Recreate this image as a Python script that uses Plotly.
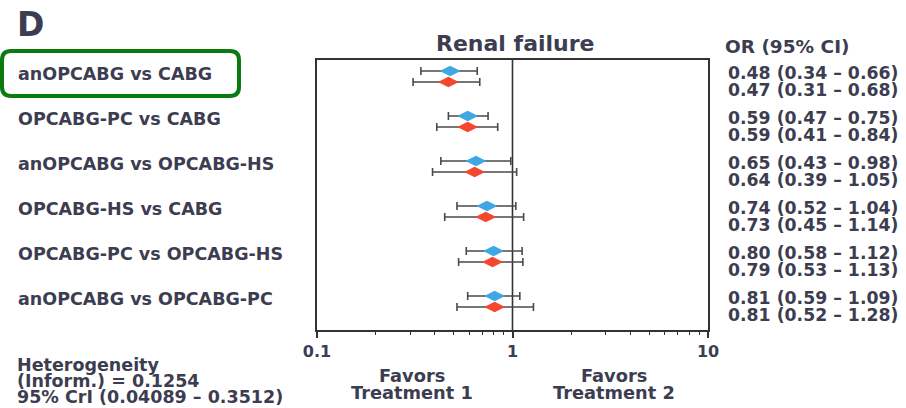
import plotly.graph_objects as go

# Network meta-analysis: renal failure, pairwise odds ratios
comparisons = [
    "anOPCABG vs CABG",
    "OPCABG-PC vs CABG",
    "anOPCABG vs OPCABG-HS",
    "OPCABG-HS vs CABG",
    "OPCABG-PC vs OPCABG-HS",
    "anOPCABG vs OPCABG-PC",
]
or_blue = [0.48, 0.59, 0.65, 0.74, 0.80, 0.81]
lo_blue = [0.34, 0.47, 0.43, 0.52, 0.58, 0.59]
hi_blue = [0.66, 0.75, 0.98, 1.04, 1.12, 1.09]
or_red = [0.47, 0.59, 0.64, 0.73, 0.79, 0.81]
lo_red = [0.31, 0.41, 0.39, 0.45, 0.53, 0.52]
hi_red = [0.68, 0.84, 1.05, 1.14, 1.13, 1.28]
x_major = [0.1, 1, 10]
x_major_labels = ["0.1", "1", "10"]
x_minor = [0.2, 0.3, 0.4, 0.5, 0.6, 0.7, 0.8, 0.9, 2, 3, 4, 5, 6, 7, 8, 9]
heterogeneity = ["Heterogeneity", "(Inform.) = 0.1254", "95% CrI (0.04089 \u2013 0.3512)"]

W, H = 906, 408
L, R, T, B = 317, 708, 60, 330
TEXT = "#3c3d50"
FONT = "DejaVu Sans"
BLUE = "#3ea7e4"
RED = "#f4472d"
BAR = "#4a4a4a"


def px_x(px):
    return (px - L) / (R - L)


def px_y(py):
    return (B - py) / (B - T)


def font(size, weight="bold"):
    return dict(family=FONT, size=size, color=TEXT, weight=weight)


rows = list(range(len(comparisons)))
off = 5.5 / 45.0

fig = go.Figure()


def add_series(ors, los, his, color, shift):
    fig.add_trace(go.Scatter(
        x=ors,
        y=[r + shift for r in rows],
        mode="markers",
        marker=dict(symbol="diamond-wide", size=15, color=color, line=dict(width=0)),
        error_x=dict(
            type="data", symmetric=False,
            array=[h - o for o, h in zip(ors, his)],
            arrayminus=[o - l for o, l in zip(ors, los)],
            color=BAR, thickness=1.6, width=4,
        ),
        showlegend=False,
        hoverinfo="skip",
    ))


add_series(or_blue, lo_blue, hi_blue, BLUE, -off)
add_series(or_red, lo_red, hi_red, RED, off)

# reference line at OR = 1
fig.add_shape(type="line", xref="x", yref="y domain", x0=1, x1=1, y0=0, y1=1,
              line=dict(color="#333333", width=1.6), layer="below")

ann = []
for r, name in zip(rows, comparisons):
    ann.append(dict(text=name, xref="paper", yref="y", x=px_x(16), y=r, yshift=3,
                    xanchor="left", yanchor="middle", showarrow=False, font=font(17.5)))
for r in rows:
    t1 = f"{or_blue[r]:.2f} ({lo_blue[r]:.2f} \u2013 {hi_blue[r]:.2f})"
    t2 = f"{or_red[r]:.2f} ({lo_red[r]:.2f} \u2013 {hi_red[r]:.2f})"
    for t, ys in ((t1, 4), (t2, -13)):
        ann.append(dict(text=t, xref="paper", yref="y", x=px_x(726), y=r, yshift=ys,
                        xanchor="left", yanchor="middle", showarrow=False, font=font(17.3)))

ann.append(dict(text="OR (95% CI)", xref="paper", yref="paper", x=px_x(723), y=px_y(46),
                xanchor="left", yanchor="middle", showarrow=False, font=font(18.5)))
ann.append(dict(text="Renal failure", xref="paper", yref="paper", x=px_x(515), y=px_y(44),
                xanchor="center", yanchor="middle", showarrow=False, font=font(22)))
ann.append(dict(text="D", xref="paper", yref="paper", x=px_x(15), y=px_y(24),
                xanchor="left", yanchor="middle", showarrow=False, font=font(33)))
for cx, lab in ((412, "Treatment 1"), (614, "Treatment 2")):
    ann.append(dict(text="Favors", xref="paper", yref="paper", x=px_x(cx), y=px_y(375),
                    xanchor="center", yanchor="middle", showarrow=False, font=font(17.8)))
    ann.append(dict(text=lab, xref="paper", yref="paper", x=px_x(cx), y=px_y(392),
                    xanchor="center", yanchor="middle", showarrow=False, font=font(17.8)))
for i, line in enumerate(heterogeneity):
    ann.append(dict(text=line, xref="paper", yref="paper", x=px_x(15), y=px_y(365 + 16 * i),
                    xanchor="left", yanchor="middle", showarrow=False, font=font(17.5)))

# rounded highlight box around the first comparison label
x0, x1, y0, y1, rad = 2, 239, 51, 96, 9


def pt(px, py):
    return f"{px_x(px):.5f},{px_y(py):.5f}"


path = (f"M {pt(x0 + rad, y0)} L {pt(x1 - rad, y0)} Q {pt(x1, y0)} {pt(x1, y0 + rad)} "
        f"L {pt(x1, y1 - rad)} Q {pt(x1, y1)} {pt(x1 - rad, y1)} "
        f"L {pt(x0 + rad, y1)} Q {pt(x0, y1)} {pt(x0, y1 - rad)} "
        f"L {pt(x0, y0 + rad)} Q {pt(x0, y0)} {pt(x0 + rad, y0)} Z")
fig.add_shape(type="path", xref="paper", yref="paper", path=path,
              line=dict(color="#0b7a12", width=4))

fig.update_layout(
    width=W, height=H,
    margin=dict(l=L, r=W - R, t=T, b=H - B, pad=0),
    paper_bgcolor="white", plot_bgcolor="white",
    annotations=ann,
    xaxis=dict(
        type="log", range=[-1, 1], tickvals=x_major, ticktext=x_major_labels,
        showgrid=False, zeroline=False,
        showline=True, mirror=True, linecolor="#333333", linewidth=1.6,
        ticks="outside", ticklen=6, tickwidth=1.6, tickcolor="#333333",
        minor=dict(tickvals=x_minor, ticks="outside", ticklen=3, tickwidth=1.4,
                   tickcolor="#333333", showgrid=False),
        tickfont=font(16),
    ),
    yaxis=dict(
        range=[len(rows) - 1 + 0.633, -0.367], showticklabels=False, ticks="",
        showgrid=False, zeroline=False,
        showline=True, mirror=True, linecolor="#333333", linewidth=1.6,
    ),
)

fig.write_html("out.html")
